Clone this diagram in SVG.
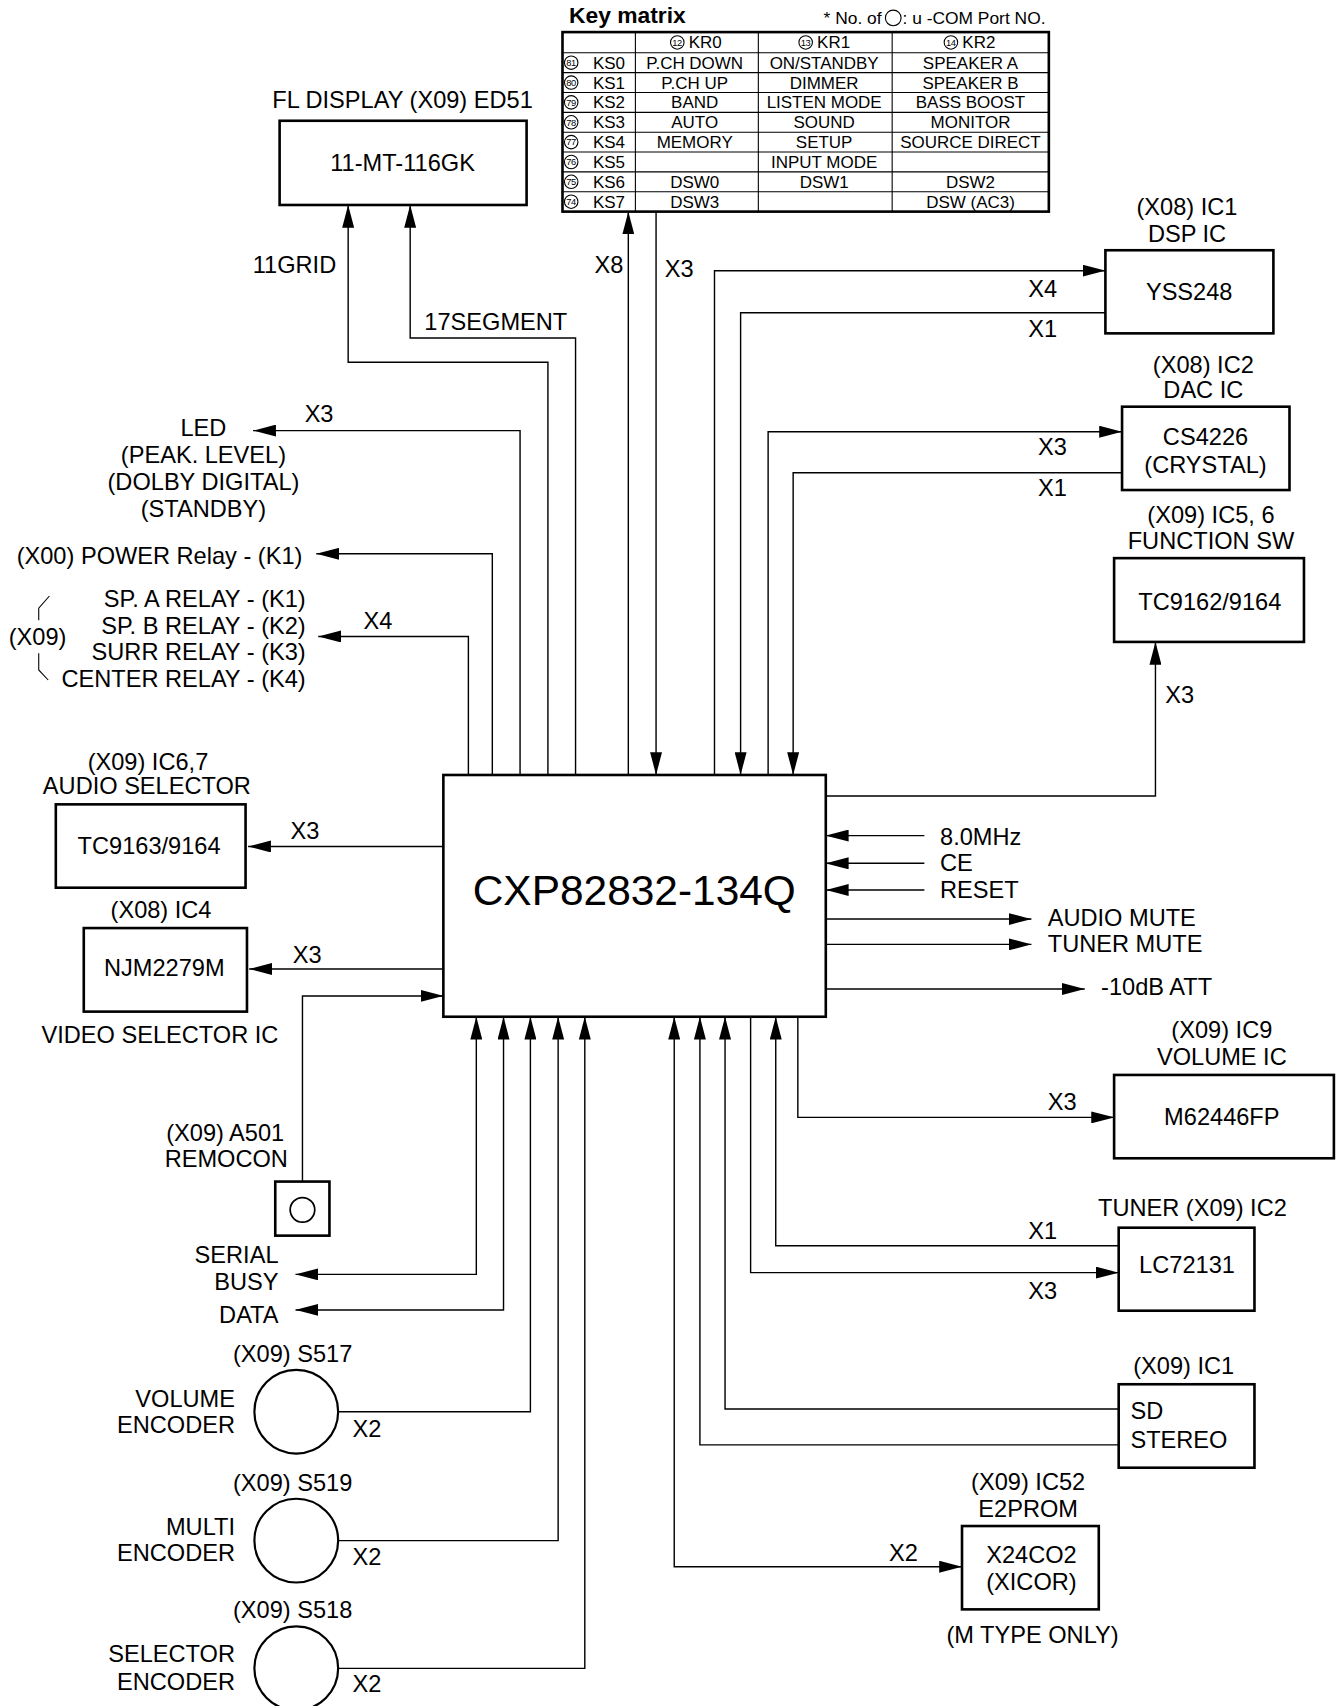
<svg xmlns="http://www.w3.org/2000/svg" width="1342" height="1706" viewBox="0 0 1342 1706">
<style>
.b{fill:none;stroke:#000;stroke-width:2.4}
.c{fill:none;stroke:#000;stroke-width:1.3}
.g{fill:none;stroke:#000;stroke-width:1}
.t{font-family:"Liberation Sans",Arial,sans-serif;font-size:21.7px;fill:#000}
.m{text-anchor:middle}
.e{text-anchor:end}
.k{font-size:15.6px}
.n{font-size:8.6px;text-anchor:middle;letter-spacing:-0.4px}
</style>
<defs>
<marker id="a" viewBox="0 0 21 11" refX="21" refY="5.5" markerWidth="21" markerHeight="11" markerUnits="userSpaceOnUse" orient="auto-start-reverse"><path d="M0,0 L21,5.5 L0,11 z" fill="#000"/></marker>
</defs>
<rect width="1342" height="1706" fill="#fff"/>
<g transform="scale(1.088)">

<g id="keymatrix">
<text class="t" x="523" y="21" style="font-weight:bold;font-size:21px">Key matrix</text>
<text class="t" x="757" y="22" style="font-size:16px">* No. of</text>
<circle cx="821" cy="16.5" r="7.2" class="g"/>
<text class="t" x="829.5" y="22" style="font-size:16px">: u -COM Port NO.</text>
<rect x="517" y="29.5" width="447" height="165" class="b"/>
<path class="g" d="M584,29.5V194.5M697,29.5V194.5M820,29.5V194.5M517,48.5H964M517,66.75H964M517,85H964M517,103.25H964M517,121.5H964M517,139.75H964M517,158H964M517,176.25H964"/>
<circle cx="622.5" cy="39" r="6.2" class="g"/><text class="t n" x="622.3" y="42">12</text><text class="t k" x="633" y="44.5">KR0</text>
<circle cx="740.5" cy="39" r="6.2" class="g"/><text class="t n" x="740.3" y="42">13</text><text class="t k" x="751" y="44.5">KR1</text>
<circle cx="874" cy="39" r="6.2" class="g"/><text class="t n" x="873.8" y="42">14</text><text class="t k" x="884.5" y="44.5">KR2</text>
<g>
<circle cx="525" cy="57.6" r="6.2" class="g"/><text class="t n" x="524.8" y="60.6">81</text>
<circle cx="525" cy="75.9" r="6.2" class="g"/><text class="t n" x="524.8" y="78.9">80</text>
<circle cx="525" cy="94.1" r="6.2" class="g"/><text class="t n" x="524.8" y="97.1">79</text>
<circle cx="525" cy="112.4" r="6.2" class="g"/><text class="t n" x="524.8" y="115.4">78</text>
<circle cx="525" cy="130.6" r="6.2" class="g"/><text class="t n" x="524.8" y="133.6">77</text>
<circle cx="525" cy="148.9" r="6.2" class="g"/><text class="t n" x="524.8" y="151.9">76</text>
<circle cx="525" cy="167.1" r="6.2" class="g"/><text class="t n" x="524.8" y="170.1">75</text>
<circle cx="525" cy="185.4" r="6.2" class="g"/><text class="t n" x="524.8" y="188.4">74</text>
</g>
<g class="t k">
<text x="545" y="63.1">KS0</text><text x="545" y="81.4">KS1</text><text x="545" y="99.6">KS2</text><text x="545" y="117.9">KS3</text>
<text x="545" y="136.1">KS4</text><text x="545" y="154.4">KS5</text><text x="545" y="172.6">KS6</text><text x="545" y="190.9">KS7</text>
</g>
<g class="t k m">
<text x="638.5" y="63.1">P.CH DOWN</text><text x="757.5" y="63.1">ON/STANDBY</text><text x="892" y="63.1">SPEAKER A</text>
<text x="638.5" y="81.4">P.CH UP</text><text x="757.5" y="81.4">DIMMER</text><text x="892" y="81.4">SPEAKER B</text>
<text x="638.5" y="99.6">BAND</text><text x="757.5" y="99.6">LISTEN MODE</text><text x="892" y="99.6">BASS BOOST</text>
<text x="638.5" y="117.9">AUTO</text><text x="757.5" y="117.9">SOUND</text><text x="892" y="117.9">MONITOR</text>
<text x="638.5" y="136.1">MEMORY</text><text x="757.5" y="136.1">SETUP</text><text x="892" y="136.1">SOURCE DIRECT</text>
<text x="757.5" y="154.4">INPUT MODE</text>
<text x="638.5" y="172.6">DSW0</text><text x="757.5" y="172.6">DSW1</text><text x="892" y="172.6">DSW2</text>
<text x="638.5" y="190.9">DSW3</text><text x="892" y="190.9">DSW (AC3)</text>
</g>
</g>

<g id="connectors">
<g class="c" marker-end="url(#a)">
<path d="M503.6,712V333H320V188.4"/>
<path d="M529,712V310.7H377V188.4"/>
<path d="M478,712V395.8H232.6"/>
<path d="M452.5,712V509H290.7"/>
<path d="M430.5,712V585H292.5"/>
<path d="M577.5,712V194.5"/>
<path d="M603,194.5V712.3"/>
<path d="M656.7,712V248.8H1016"/>
<path d="M1016,287.4H680.7V712.3"/>
<path d="M706,712V396.8H1031.3"/>
<path d="M1031.3,434.5H729V712.3"/>
<path d="M759,731.6H1062V590"/>
<path d="M849.6,768H759"/>
<path d="M849.6,793.5H759"/>
<path d="M849.6,818H759"/>
<path d="M759,844.7H948"/>
<path d="M759,868H948"/>
<path d="M759,909H997"/>
<path d="M407.5,778H228"/>
<path d="M407.5,890.6H229"/>
<path d="M278,1086V915.4H407.5"/>
<path d="M271.6,1171.3H437.8V934.5" marker-start="url(#a)"/>
<path d="M271.6,1204H462.8V934.5" marker-start="url(#a)"/>
<path d="M310.8,1297.5H487.5V934.5"/>
<path d="M310.8,1416H513V934.5"/>
<path d="M310.8,1533.4H537.5V934.5"/>
<path d="M884.2,1440H619.7V934.5" marker-start="url(#a)"/>
<path d="M1028.2,1328H643.3V934.5"/>
<path d="M1028.2,1295H666.4V934.5"/>
<path d="M689.9,934.5V1169.7H1028.2"/>
<path d="M1028.2,1145H713V934.5"/>
<path d="M733.3,934.5V1027H1024"/>
</g>
<g class="t">
<text class="e" x="309" y="251">11GRID</text>
<text x="390" y="303">17SEGMENT</text>
<text class="e" x="573" y="251">X8</text>
<text x="611" y="255">X3</text>
<text x="945" y="273">X4</text>
<text x="945" y="310">X1</text>
<text x="954" y="418">X3</text>
<text x="954" y="456">X1</text>
<text x="1071" y="646">X3</text>
<text x="280" y="388">X3</text>
<text x="334" y="578">X4</text>
<text x="267" y="771">X3</text>
<text x="269" y="885">X3</text>
<text x="963" y="1020">X3</text>
<text x="945" y="1139">X1</text>
<text x="945" y="1194">X3</text>
<text x="324" y="1321">X2</text>
<text x="324" y="1438">X2</text>
<text x="324" y="1555">X2</text>
<text x="817" y="1435">X2</text>
</g>
</g>

<g id="fl-display">
<text class="t m" x="370" y="99">FL DISPLAY (X09) ED51</text>
<rect x="257" y="111" width="227" height="77.4" class="b"/>
<text class="t m" x="370" y="157">11-MT-116GK</text>
</g>

<g id="dsp">
<text class="t m" x="1091" y="198">(X08) IC1</text>
<text class="t m" x="1091" y="222">DSP IC</text>
<rect x="1016" y="230" width="154.4" height="76.4" class="b"/>
<text class="t m" x="1093" y="276">YSS248</text>
</g>

<g id="dac">
<text class="t m" x="1106" y="343">(X08) IC2</text>
<text class="t m" x="1106" y="366">DAC IC</text>
<rect x="1031.3" y="373.8" width="153.9" height="76.6" class="b"/>
<text class="t m" x="1108" y="409">CS4226</text>
<text class="t m" x="1108" y="435">(CRYSTAL)</text>
</g>

<g id="function-sw">
<text class="t m" x="1113" y="481">(X09) IC5, 6</text>
<text class="t m" x="1113" y="505">FUNCTION SW</text>
<rect x="1024" y="513" width="174.5" height="77" class="b"/>
<text class="t m" x="1112" y="561">TC9162/9164</text>
</g>

<g id="led">
<text class="t m" x="187" y="401">LED</text>
<text class="t m" x="187" y="426">(PEAK. LEVEL)</text>
<text class="t m" x="187" y="450">(DOLBY DIGITAL)</text>
<text class="t m" x="187" y="475">(STANDBY)</text>
</g>

<g id="power-relay">
<text class="t e" x="278" y="518">(X00) POWER Relay - (K1)</text>
</g>

<g id="relays">
<text class="t e" x="281" y="558">SP. A RELAY - (K1)</text>
<text class="t e" x="281" y="583">SP. B RELAY - (K2)</text>
<text class="t e" x="281" y="607">SURR RELAY - (K3)</text>
<text class="t e" x="281" y="631">CENTER RELAY - (K4)</text>
<text class="t" x="8" y="593">(X09)</text>
<path class="g" d="M45.4,547.8L35.6,559V570M35.6,600.5V615.8L44.3,625"/>
</g>

<g id="audio-selector">
<text class="t m" x="136" y="708">(X09) IC6,7</text>
<text class="t m" x="135" y="730">AUDIO SELECTOR</text>
<rect x="51.3" y="739.3" width="174.4" height="76.6" class="b"/>
<text class="t m" x="137" y="785">TC9163/9164</text>
</g>

<g id="video-selector">
<text class="t m" x="148" y="844">(X08) IC4</text>
<rect x="77" y="853" width="150" height="76.8" class="b"/>
<text class="t m" x="151" y="897">NJM2279M</text>
<text class="t m" x="147" y="959">VIDEO SELECTOR IC</text>
</g>

<g id="cpu">
<rect x="407.5" y="712.3" width="351.5" height="222.2" class="b"/>
<text class="t m" x="583" y="832" style="font-size:39px">CXP82832-134Q</text>
</g>

<g id="cpu-inputs">
<text class="t" x="864" y="777">8.0MHz</text>
<text class="t" x="864" y="801">CE</text>
<text class="t" x="864" y="825">RESET</text>
</g>

<g id="cpu-outputs">
<text class="t" x="963" y="851">AUDIO MUTE</text>
<text class="t" x="963" y="875">TUNER MUTE</text>
<text class="t" x="1012" y="914.5">-10dB ATT</text>
</g>

<g id="volume-ic">
<text class="t m" x="1123" y="954">(X09) IC9</text>
<text class="t m" x="1123" y="979">VOLUME IC</text>
<rect x="1024" y="988" width="202" height="76.6" class="b"/>
<text class="t m" x="1123" y="1034">M62446FP</text>
</g>

<g id="remocon">
<text class="t m" x="207" y="1049">(X09) A501</text>
<text class="t m" x="208" y="1073">REMOCON</text>
<rect x="253" y="1086" width="49.8" height="49.7" class="b"/>
<circle cx="278" cy="1112" r="11.3" style="fill:none;stroke:#000;stroke-width:1.6"/>
</g>

<g id="serial">
<text class="t e" x="256" y="1161">SERIAL</text>
<text class="t e" x="256" y="1186">BUSY</text>
<text class="t e" x="256" y="1216">DATA</text>
</g>

<g id="tuner">
<text class="t m" x="1096" y="1118">TUNER (X09) IC2</text>
<rect x="1028.2" y="1128.4" width="124.8" height="76.3" class="b"/>
<text class="t m" x="1091" y="1170">LC72131</text>
</g>

<g id="sd-stereo">
<text class="t m" x="1088" y="1263">(X09) IC1</text>
<rect x="1028.2" y="1272.3" width="124.8" height="76.7" class="b"/>
<text class="t" x="1039" y="1304">SD</text>
<text class="t" x="1039" y="1331">STEREO</text>
</g>

<g id="e2prom">
<text class="t m" x="945" y="1369.5">(X09) IC52</text>
<text class="t m" x="945" y="1394">E2PROM</text>
<rect x="884.2" y="1402.6" width="125.7" height="76.6" class="b"/>
<text class="t m" x="948" y="1437">X24CO2</text>
<text class="t m" x="948" y="1461">(XICOR)</text>
<text class="t m" x="949" y="1510">(M TYPE ONLY)</text>
</g>

<g id="volume-encoder">
<text class="t m" x="269" y="1251.5">(X09) S517</text>
<text class="t e" x="216" y="1293">VOLUME</text>
<text class="t e" x="216" y="1317">ENCODER</text>
<circle cx="272.3" cy="1297.5" r="38.5" style="fill:none;stroke:#000;stroke-width:2"/>
</g>

<g id="multi-encoder">
<text class="t m" x="269" y="1370">(X09) S519</text>
<text class="t e" x="216" y="1411">MULTI</text>
<text class="t e" x="216" y="1435">ENCODER</text>
<circle cx="272.3" cy="1416" r="38.5" style="fill:none;stroke:#000;stroke-width:2"/>
</g>

<g id="selector-encoder">
<text class="t m" x="269" y="1487">(X09) S518</text>
<text class="t e" x="216" y="1528">SELECTOR</text>
<text class="t e" x="216" y="1553">ENCODER</text>
<circle cx="272.3" cy="1533.4" r="38.5" style="fill:none;stroke:#000;stroke-width:2"/>
</g>

</g>
</svg>
